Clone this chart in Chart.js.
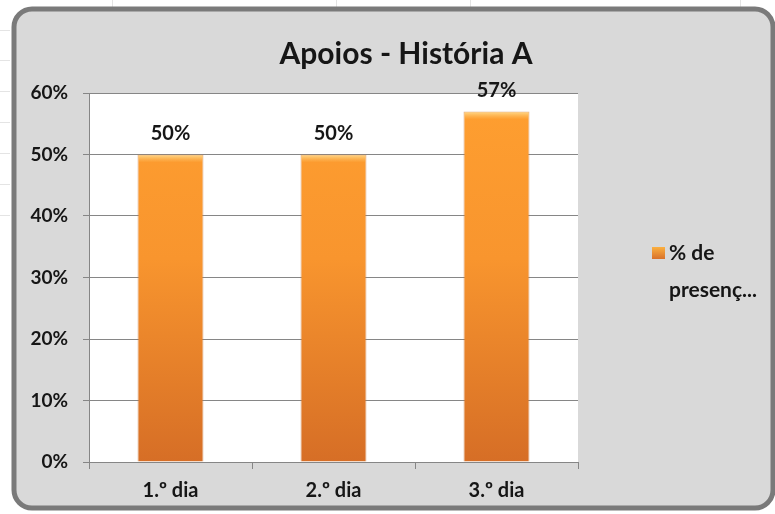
<!DOCTYPE html>
<html>
<head>
<meta charset="utf-8">
<script src="https://cdn.jsdelivr.net/npm/chart.js@4/dist/chart.umd.min.js"></script>
<style>
  html, body { margin: 0; padding: 0; background: #ffffff; }
  #wrap { position: relative; width: 775px; height: 514px; }
</style>
</head>
<body>
<div id="wrap"><canvas id="c" width="775" height="514"></canvas></div>
<script>
const chartTitle = "Apoios - História A";
const categories = ["1.º dia", "2.º dia", "3.º dia"];
const seriesName = "% de presença";
const legendLines = ["% de", "presenç..."];
const presenca = [0.50, 0.50, 0.57];
const yTicks = [0, 0.1, 0.2, 0.3, 0.4, 0.5, 0.6];

const FONT = "Lato, 'Open Sans', sans-serif";
const TEXT = "#161616";

const backgroundPlugin = {
  id: "frame",
  beforeDraw(chart) {
    const ctx = chart.ctx;
    ctx.save();
    ctx.strokeStyle = "#e4e4e4";
    ctx.lineWidth = 1;
    [30, 60, 91, 122, 153, 184, 215].forEach(y => {
      ctx.beginPath(); ctx.moveTo(0, y + 0.5); ctx.lineTo(10, y + 0.5); ctx.stroke();
    });
    [112, 336, 470, 740].forEach(x => {
      ctx.beginPath(); ctx.moveTo(x + 0.5, 0); ctx.lineTo(x + 0.5, 8); ctx.stroke();
    });
    const x = 14, y = 9, w = 759, h = 499, r = 18;
    ctx.beginPath();
    ctx.moveTo(x + r, y);
    ctx.lineTo(x + w - r, y);
    ctx.arcTo(x + w, y, x + w, y + r, r);
    ctx.lineTo(x + w, y + h - r);
    ctx.arcTo(x + w, y + h, x + w - r, y + h, r);
    ctx.lineTo(x + r, y + h);
    ctx.arcTo(x, y + h, x, y + h - r, r);
    ctx.lineTo(x, y + r);
    ctx.arcTo(x, y, x + r, y, r);
    ctx.closePath();
    ctx.fillStyle = "#d9d9d9";
    ctx.fill();
    ctx.strokeStyle = "#7a7a7a";
    ctx.lineWidth = 5;
    ctx.stroke();
    const a = chart.chartArea;
    ctx.fillStyle = "#ffffff";
    ctx.fillRect(a.left, a.top, a.right - a.left, a.bottom - a.top);
    ctx.fillStyle = TEXT;
    ctx.font = "bold 30px " + FONT;
    ctx.textAlign = "center";
    ctx.textBaseline = "middle";
    ctx.fillText(chartTitle, 406, 54);
    ctx.restore();
  },
  afterDatasetsDraw(chart) {
    const ctx = chart.ctx;
    const meta = chart.getDatasetMeta(0);
    ctx.save();
    // bevel highlight at bar tops
    meta.data.forEach(bar => {
      const l = bar.x - bar.width / 2, t = bar.y;
      const g = ctx.createLinearGradient(0, t, 0, t + 8);
      g.addColorStop(0, "rgba(255,225,150,0.95)");
      g.addColorStop(1, "rgba(255,200,110,0)");
      ctx.fillStyle = g;
      ctx.fillRect(l + 1, t + 1, bar.width - 2, 8);
    });
    ctx.fillStyle = TEXT;
    ctx.font = "bold 20px " + FONT;
    ctx.textAlign = "center";
    ctx.textBaseline = "middle";
    meta.data.forEach((bar, i) => {
      ctx.fillText(Math.round(presenca[i] * 100) + "%", bar.x, bar.y - 21);
    });
    const lx = 652, ly = 253;
    const g = ctx.createLinearGradient(0, ly - 6, 0, ly + 6);
    g.addColorStop(0, "#fbb040");
    g.addColorStop(1, "#d8712a");
    ctx.fillStyle = g;
    ctx.fillRect(lx, ly - 6, 13, 12);
    ctx.fillStyle = TEXT;
    ctx.font = "bold 21px " + FONT;
    ctx.textAlign = "left";
    ctx.fillText(legendLines[0], lx + 17, ly);
    ctx.fillText(legendLines[1], lx + 17, ly + 37);
    ctx.restore();
  }
};

new Chart(document.getElementById("c"), {
  type: "bar",
  data: {
    labels: categories,
    datasets: [{
      label: seriesName,
      data: presenca,
      backgroundColor(ctx) {
        const a = ctx.chart.chartArea;
        if (!a) return "#f7962f";
        const g = ctx.chart.ctx.createLinearGradient(0, a.top, 0, a.bottom);
        g.addColorStop(0, "#ff9f30");
        g.addColorStop(0.45, "#f8952e");
        g.addColorStop(1, "#d66e26");
        return g;
      },
      borderColor: "rgba(200,120,60,0.6)",
      borderWidth: 1,
      borderSkipped: "bottom",
      categoryPercentage: 1,
      barPercentage: 0.405
    }]
  },
  plugins: [backgroundPlugin],
  options: {
    responsive: false,
    animation: false,
    devicePixelRatio: 1,
    layout: { padding: { top: 93, right: 197, left: 0, bottom: 0 } },
    plugins: {
      legend: { display: false },
      title: { display: false },
      tooltip: { enabled: false }
    },
    scales: {
      x: {
        offset: true,
        grid: {
          display: true,
          offset: true,
          drawOnChartArea: false,
          drawTicks: true,
          tickLength: 7,
          color: "#868686"
        },
        border: { display: true, color: "#868686", width: 1 },
        ticks: {
          color: TEXT,
          font: { family: FONT, size: 20, weight: "bold" },
          padding: 10,
          maxRotation: 0
        },
        afterFit(scale) { scale.height = 52; }
      },
      y: {
        min: 0,
        max: 0.6,
        afterBuildTicks(scale) { scale.ticks = yTicks.map(v => ({ value: v })); },
        grid: {
          color: "#868686",
          tickLength: 6,
          drawTicks: true
        },
        border: { display: true, color: "#868686", width: 1 },
        ticks: {
          color: TEXT,
          font: { family: FONT, size: 19, weight: "bold" },
          padding: 15,
          callback: v => Math.round(v * 100) + "%"
        },
        afterFit(scale) { scale.width = 89; }
      }
    }
  }
});
</script>
</body>
</html>
